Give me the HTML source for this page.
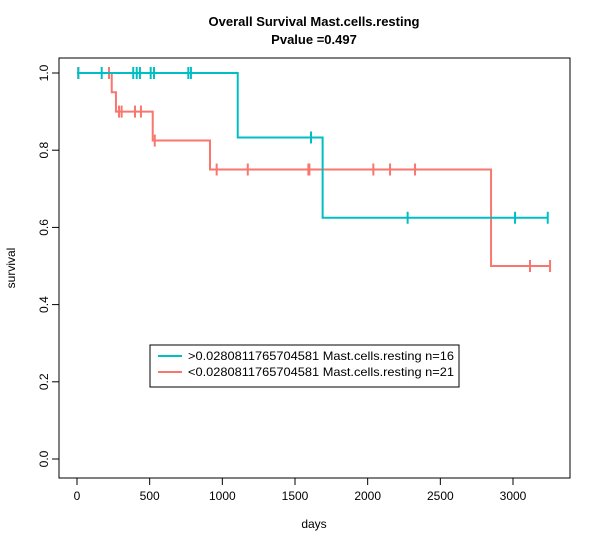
<!DOCTYPE html>
<html><head><meta charset="utf-8"><style>
body{margin:0;background:#fff}
svg{display:block;font-family:"Liberation Sans",Arial,sans-serif}
</style></head><body>
<svg id="chart" width="600" height="547">
<text x="314" y="26" text-anchor="middle" font-size="13" font-weight="bold">Overall Survival Mast.cells.resting</text>
<text x="314" y="44" text-anchor="middle" font-size="13" font-weight="bold">Pvalue =0.497</text>
<rect x="59" y="58" width="511" height="420" fill="none" stroke="#000"/>
<text x="314" y="528" text-anchor="middle" font-size="12">days</text>
<text transform="translate(15,268) rotate(-90)" text-anchor="middle" font-size="12">survival</text>
<g id="axes"></g>
<g id="marks"></g>
<g>
<rect x="150" y="345" width="309" height="42" fill="#fff" stroke="#000"/>
<line x1="158" y1="356" x2="182" y2="356" stroke="#00BFC4" stroke-width="2"/>
<line x1="158" y1="372" x2="182" y2="372" stroke="#F8766D" stroke-width="2"/>
<text x="188" y="360" font-size="12" textLength="266" lengthAdjust="spacingAndGlyphs">&gt;0.0280811765704581 Mast.cells.resting n=16</text>
<text x="188" y="376" font-size="12" textLength="266" lengthAdjust="spacingAndGlyphs">&lt;0.0280811765704581 Mast.cells.resting n=21</text>
</g>
</svg>
<script>
const xTicks=[0,500,1000,1500,2000,2500,3000];
const yTicks=[0,0.2,0.4,0.6,0.8,1.0];
const highTimes=[0,1106,1690];
const highSurv=[1,0.833,0.625];
const highEnd=3239;
const highCensor=[9,170,387,411,433,507,530,766,784,1610,2275,3014,3239];
const lowTimes=[0,239,268,521,915,2849];
const lowSurv=[1,0.95,0.9,0.825,0.75,0.5];
const lowEnd=3255;
const lowCensor=[9,220,289,307,399,440,535,961,1175,1592,1599,2039,2154,2326,3117,3255];

const NS="http://www.w3.org/2000/svg";
const X=d=>77+d*(436/3000);
const Y=s=>459-s*386;
function mk(tag,attrs,parent){const e=document.createElementNS(NS,tag);for(const k in attrs)e.setAttribute(k,attrs[k]);parent.appendChild(e);return e;}
const axes=document.getElementById('axes'),marks=document.getElementById('marks');
mk('line',{x1:X(0),y1:478,x2:X(3000),y2:478,stroke:'#000'},axes);
xTicks.forEach(t=>{
  const l=mk('line',{x1:X(t),y1:478,x2:X(t),y2:485,stroke:'#000'},axes);
  
  
  const tx=mk('text',{x:X(t),y:500,'text-anchor':'middle','font-size':12},axes);tx.textContent=t;
  
  
});
mk('line',{x1:59,y1:Y(0),x2:59,y2:Y(1),stroke:'#000'},axes);
yTicks.forEach(t=>{
  const l=mk('line',{x1:52,y1:Y(t),x2:59,y2:Y(t),stroke:'#000'},axes);
  
  
  const tx=mk('text',{transform:`translate(48,${Y(t)}) rotate(-90)`,'text-anchor':'middle','font-size':12},axes);tx.textContent=t.toFixed(1);
  
  
});
function survAt(times,surv,t){let s=surv[0];for(let i=0;i<times.length;i++)if(times[i]<=t)s=surv[i];return s;}
function curve(times,surv,end,cens,color,name){
  let d=`M${X(times[0])},${Y(surv[0])}`;
  for(let i=1;i<times.length;i++)d+=`H${X(times[i])}V${Y(surv[i])}`;
  d+=`H${X(end)}`;
  const p=mk('path',{d:d,fill:'none',stroke:color,'stroke-width':2},marks);
  
  
  cens.forEach(c=>{
    const y=Y(survAt(times,surv,c));
    const l=mk('line',{x1:X(c),y1:y-6,x2:X(c),y2:y+6,stroke:color,'stroke-width':2},marks);
    
    
  });
}
curve(lowTimes,lowSurv,lowEnd,lowCensor,'#F8766D','low-group');
curve(highTimes,highSurv,highEnd,highCensor,'#00BFC4','high-group');
</script>
</body></html>
